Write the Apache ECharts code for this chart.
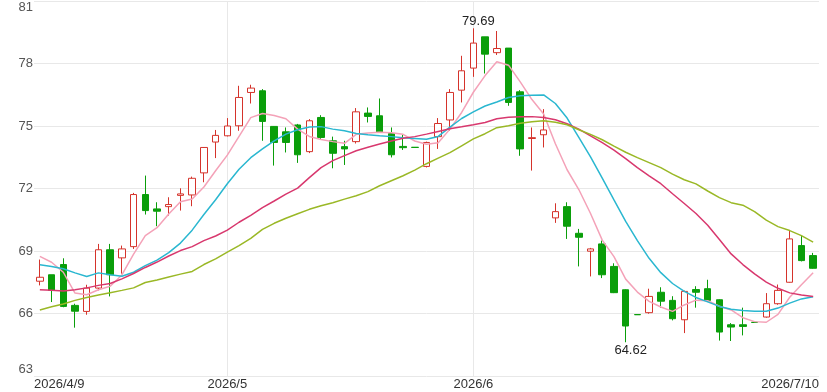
<!DOCTYPE html>
<html>
<head>
<meta charset="utf-8">
<script src="https://cdn.jsdelivr.net/npm/echarts@6/dist/echarts.min.js"></script>
<style>
  html, body { margin: 0; padding: 0; background: #fff; }
  #kline { width: 827px; height: 392px; }
</style>
</head>
<body>
<div id="kline"></div>
<script>
// 交易日
const dates = [
  "2026/4/9", "2026/4/10", "2026/4/13", "2026/4/14", "2026/4/15", "2026/4/16", "2026/4/17",
  "2026/4/20", "2026/4/21", "2026/4/22", "2026/4/23", "2026/4/24",
  "2026/4/27", "2026/4/28", "2026/4/29", "2026/4/30",
  "2026/5/1", "2026/5/4", "2026/5/5", "2026/5/6", "2026/5/7", "2026/5/8",
  "2026/5/11", "2026/5/12", "2026/5/13", "2026/5/14", "2026/5/15",
  "2026/5/18", "2026/5/19", "2026/5/20", "2026/5/21", "2026/5/22",
  "2026/5/25", "2026/5/26", "2026/5/27", "2026/5/28", "2026/5/29",
  "2026/6/1", "2026/6/2", "2026/6/3", "2026/6/4", "2026/6/5",
  "2026/6/8", "2026/6/9", "2026/6/10", "2026/6/11", "2026/6/12",
  "2026/6/15", "2026/6/16", "2026/6/17", "2026/6/18", "2026/6/19",
  "2026/6/22", "2026/6/23", "2026/6/24", "2026/6/25", "2026/6/26",
  "2026/6/29", "2026/6/30",
  "2026/7/1", "2026/7/2", "2026/7/3",
  "2026/7/6", "2026/7/7", "2026/7/8", "2026/7/9", "2026/7/10"
];

// 坐标轴上显示的日期
const tickIndex = [0, 16, 37, 66];
const tickText = ["2026/4/9", "2026/5", "2026/6", "2026/7/10"];

// 开 收 低 高
const openPrice = [
  67.55, 67.86, 68.35, 66.39, 66.10, 67.22, 69.06, 68.67, 69.21, 71.71,
  71.02, 71.13, 71.67, 71.69, 72.75, 74.23, 74.53, 75.01, 76.61, 76.69,
  74.98, 74.72, 75.05, 73.77, 75.41, 74.29, 74.01, 74.25, 75.62, 75.49,
  74.64, 74.02, 73.98, 73.06, 74.49, 75.29, 76.72, 77.78, 79.28, 78.52,
  78.74, 76.64, 74.40, 74.58, 70.59, 71.13, 69.85, 68.99, 69.34, 68.26,
  67.14, 65.95, 66.04, 67.02, 66.63, 65.70, 67.15, 67.19, 66.66, 65.46,
  65.46, 65.58, 65.83, 66.47, 67.50, 69.26, 68.78
];
const closePrice = [
  67.74, 67.11, 66.34, 66.11, 67.22, 69.06, 67.86, 69.10, 71.71, 70.94,
  70.91, 71.23, 71.74, 72.49, 73.97, 74.55, 75.00, 76.37, 76.82, 75.22,
  74.21, 74.21, 73.62, 75.25, 74.45, 73.69, 73.90, 75.68, 75.46, 74.72,
  73.62, 73.96, 73.97, 74.21, 75.12, 76.61, 77.65, 78.98, 78.45, 78.72,
  76.13, 73.90, 74.44, 74.81, 70.89, 70.19, 69.66, 69.10, 67.86, 67.00,
  65.40, 65.94, 66.82, 66.59, 65.75, 67.06, 67.02, 66.63, 65.11, 65.35,
  65.38, 65.57, 66.47, 67.11, 69.58, 68.54, 68.17
];
const lowPrice = [
  67.35, 66.55, 66.30, 65.32, 65.94, 67.11, 66.82, 67.91, 69.10, 70.75,
  70.19, 70.70, 70.94, 71.15, 72.30, 73.46, 74.50, 74.77, 76.08, 74.29,
  73.10, 73.73, 73.23, 73.70, 74.37, 72.97, 73.13, 74.16, 75.17, 74.70,
  73.49, 73.85, 73.97, 73.01, 73.90, 74.77, 76.13, 77.36, 77.52, 78.41,
  75.97, 73.57, 72.86, 73.97, 70.35, 69.58, 68.26, 67.78, 67.70, 66.98,
  64.62, 65.94, 65.99, 66.28, 65.67, 65.06, 66.28, 66.55, 64.70, 64.68,
  64.95, 65.57, 65.80, 66.42, 67.48, 68.50, 68.15
];
const highPrice = [
  68.59, 67.86, 68.65, 66.47, 67.38, 69.34, 69.34, 69.26, 71.79, 72.62,
  71.34, 71.58, 72.01, 72.57, 73.99, 74.81, 75.38, 76.93, 76.98, 76.77,
  75.00, 74.93, 75.10, 75.33, 75.52, 74.49, 74.29, 75.86, 75.89, 76.32,
  74.93, 74.58, 73.98, 74.25, 75.38, 76.77, 78.37, 79.69, 79.28, 79.56,
  78.74, 76.72, 74.93, 75.81, 71.29, 71.34, 70.06, 69.15, 69.50, 68.41,
  67.16, 65.95, 67.19, 67.26, 66.83, 67.10, 67.31, 67.62, 66.68, 65.54,
  66.28, 65.58, 66.98, 67.39, 69.98, 69.74, 68.91
];

// 均线
const ma5 = [
  68.74, 68.46, 67.98, 66.98, 66.90, 67.14, 67.31, 67.85, 68.85, 69.74,
  70.12, 70.78, 71.36, 71.50, 72.07, 72.85, 73.60, 74.50, 75.40, 75.60,
  75.50, 75.35, 74.85, 74.50, 74.35, 74.25, 74.17, 74.60, 74.66, 74.70,
  74.68, 74.60, 74.28, 74.12, 74.20, 74.85, 75.65, 76.62, 77.42, 78.08,
  77.92, 77.12, 76.27, 75.58, 74.15, 72.90, 71.95, 70.80, 69.52, 68.73,
  67.65, 67.03, 66.58, 66.31, 66.10, 66.41, 66.64, 66.61, 66.35, 66.17,
  65.80, 65.61, 65.58, 65.96, 66.78, 67.38, 67.96
];
const ma10 = [
  68.34, 68.26, 68.15, 67.95, 67.78, 67.95, 67.86, 67.79, 67.98, 68.30,
  68.56, 68.92, 69.38, 70.00, 70.75, 71.46, 72.23, 72.92, 73.48, 73.90,
  74.29, 74.61, 74.82, 74.95, 74.97, 74.85, 74.77, 74.64, 74.58, 74.53,
  74.49, 74.44, 74.40, 74.36, 74.50, 74.95, 75.36, 75.68, 75.96, 76.15,
  76.37, 76.45, 76.48, 76.49, 76.08, 75.38, 74.45, 73.52, 72.50, 71.45,
  70.42, 69.50, 68.65, 67.96, 67.44, 67.06, 66.77, 66.56, 66.34, 66.20,
  66.14, 66.11, 66.11, 66.26, 66.50, 66.70, 66.80
];
const ma20 = [
  67.14, 67.12, 67.08, 67.14, 67.23, 67.35, 67.44, 67.66, 67.92, 68.21,
  68.47, 68.76, 69.02, 69.21, 69.50, 69.72, 70.00, 70.38, 70.71, 71.08,
  71.40, 71.73, 72.02, 72.52, 73.00, 73.34, 73.58, 73.81, 73.98, 74.14,
  74.28, 74.41, 74.49, 74.61, 74.74, 74.87, 74.96, 75.06, 75.17, 75.35,
  75.42, 75.44, 75.45, 75.41, 75.30, 75.11, 74.85, 74.53, 74.20, 73.84,
  73.43, 73.00, 72.61, 72.23, 71.75, 71.28, 70.80, 70.24, 69.55, 68.86,
  68.35, 67.90, 67.51, 67.21, 66.99, 66.89, 66.82
];
const ma30 = [
  66.17, 66.32, 66.46, 66.63, 66.77, 66.89, 67.00, 67.11, 67.23, 67.49,
  67.61, 67.75, 67.89, 68.02, 68.35, 68.62, 68.95, 69.26, 69.61, 70.04,
  70.33, 70.57, 70.79, 71.00, 71.17, 71.32, 71.49, 71.65, 71.85, 72.13,
  72.37, 72.61, 72.88, 73.19, 73.46, 73.72, 74.05, 74.38, 74.63, 74.92,
  75.01, 75.13, 75.20, 75.25, 75.18, 75.06, 74.82, 74.60, 74.34, 74.03,
  73.74, 73.48, 73.24, 73.00, 72.69, 72.42, 72.22, 71.88, 71.56, 71.32,
  71.20, 70.89, 70.48, 70.17, 69.98, 69.74, 69.43
];

const FONT = "Liberation Sans, Arial, sans-serif";
const UP = "#d5332b";
const DOWN = "#0a9e0a";

function maSeries(name, data, color) {
  return {
    name: name,
    type: "line",
    data: data,
    showSymbol: false,
    smooth: false,
    silent: true,
    z: 3,
    lineStyle: { color: color, width: 1.5 },
  };
}

let kData = [];
for (let i = 0; i < dates.length; i++) {
  kData.push([openPrice[i], closePrice[i], lowPrice[i], highPrice[i]]);
}

const option = {
  animation: false,
  backgroundColor: "#fff",
  grid: { left: 34, right: 8, top: 1, bottom: 16, outerBoundsMode: "none" },
  xAxis: [
    {
      type: "category",
      data: dates,
      boundaryGap: true,
      axisLine: { show: false },
      axisTick: { show: false },
      splitLine: { show: false },
      axisLabel: {
        interval: function (idx) {
          return idx === tickIndex[1] || idx === tickIndex[2];
        },
        formatter: function (val, idx) {
          let k = tickIndex.indexOf(idx);
          return k >= 0 ? tickText[k] : "";
        },
        color: "#333",
        fontSize: 13,
        fontFamily: FONT,
        margin: 2,
      },
    },
    {
      type: "category",
      data: dates,
      position: "bottom",
      boundaryGap: false,
      axisLine: { show: false },
      axisTick: { show: false },
      splitLine: { show: false },
      axisLabel: {
        interval: function (idx) {
          return idx === tickIndex[0] || idx === tickIndex[3];
        },
        formatter: function (val, idx) {
          let k = tickIndex.indexOf(idx);
          return k >= 0 ? tickText[k] : "";
        },
        alignMinLabel: "left",
        alignMaxLabel: "right",
        color: "#333",
        fontSize: 13,
        fontFamily: FONT,
        margin: 2,
      },
    },
  ],
  yAxis: {
    type: "value",
    min: 63,
    max: 81,
    interval: 3,
    axisLine: { show: false },
    axisTick: { show: false },
    axisLabel: {
      color: "#555",
      fontSize: 13,
      fontFamily: FONT,
      margin: 1,
      verticalAlignMinLabel: "bottom",
      verticalAlignMaxLabel: "top",
    },
    splitLine: { lineStyle: { color: "#e8e8e8", width: 1 } },
  },
  series: [
    {
      name: "K",
      type: "candlestick",
      data: kData,
      barWidth: 7,
      z: 2,
      itemStyle: {
        color: "#fff",
        color0: DOWN,
        borderColor: UP,
        borderColor0: DOWN,
        borderWidth: 1,
      },
      markLine: {
        silent: true,
        z: 1,
        symbol: ["none", "none"],
        label: { show: false },
        lineStyle: { color: "#e8e8e8", type: "solid", width: 1 },
        data: [{ xAxis: dates[tickIndex[1]] }, { xAxis: dates[tickIndex[2]] }],
      },
      markPoint: {
        silent: true,
        symbol: "circle",
        symbolSize: 0,
        label: {
          color: "#222",
          fontSize: 13,
          fontFamily: FONT,
          formatter: function (p) {
            return p.value.toFixed(2);
          },
        },
        data: [
          { type: "max", valueDim: "highest", label: { position: "top", distance: 0, offset: [5, 0] } },
          { type: "min", valueDim: "lowest", label: { position: "bottom", distance: 2, offset: [5, 0] } },
        ],
      },
    },
    maSeries("MA5", ma5, "#f4a2b8"),
    maSeries("MA10", ma10, "#2ab7d0"),
    maSeries("MA20", ma20, "#d8386e"),
    maSeries("MA30", ma30, "#9ab826"),
  ],
};

let chart = echarts.init(document.getElementById("kline"));
chart.setOption(option);
</script>
</body>
</html>
